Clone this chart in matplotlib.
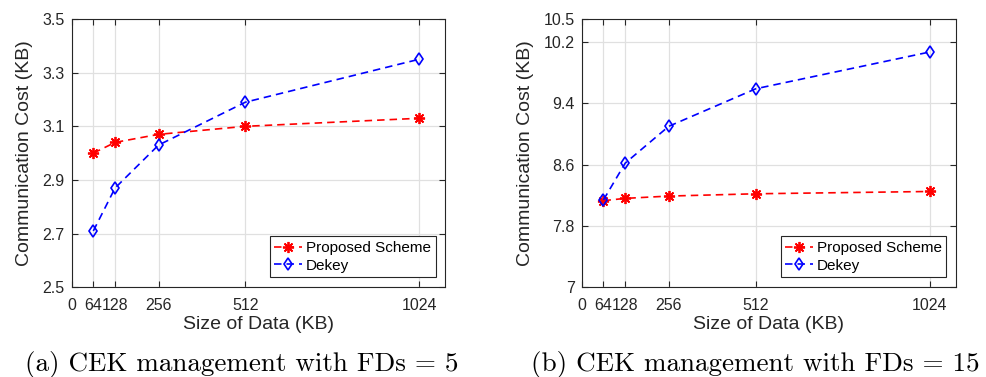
import numpy as np
import matplotlib
matplotlib.use("Agg")
import matplotlib.pyplot as plt

plt.rcParams['font.family'] = ['Liberation Sans', 'DejaVu Sans']

# data
sizes = [64, 128, 256, 512, 1024]
x_ticks = [0, 64, 128, 256, 512, 1024]

proposed_5 = [3.00, 3.04, 3.07, 3.10, 3.13]
dekey_5 = [2.71, 2.87, 3.03, 3.19, 3.35]
yticks_5 = [2.5, 2.7, 2.9, 3.1, 3.3, 3.5]

proposed_15 = [8.13, 8.16, 8.19, 8.22, 8.25]
dekey_15 = [8.14, 8.62, 9.10, 9.59, 10.07]
yticks_15 = [7, 7.8, 8.6, 9.4, 10.2, 10.5]

captions = ["(a) CEK management with FDs = 5", "(b) CEK management with FDs = 15"]

fig = plt.figure(figsize=(9.87, 3.77), dpi=100)
W, H = 987, 377
# axes boxes in pixels: left, top, right, bottom
boxes = [(71.6, 19, 445, 287.3), (581.7, 19, 955.7, 287.3)]
cap_x = [242, 755]
panels = [(proposed_5, dekey_5, yticks_5, (2.5, 3.5), ["2.5", "2.7", "2.9", "3.1", "3.3", "3.5"]),
          (proposed_15, dekey_15, yticks_15, (7, 10.5), ["7", "7.8", "8.6", "9.4", "10.2", "10.5"])]

for (l, t, r, b), (prop, dek, yt, ylim, ylabels), cap, cx in zip(boxes, panels, captions, cap_x):
    ax = fig.add_axes([l / W, 1 - b / H, (r - l) / W, (b - t) / H])
    ax.plot(sizes, prop, 'r--', marker=(8, 2, 0), markersize=8, markeredgewidth=1.3,
            linewidth=1.2, label='Proposed Scheme', zorder=3, dashes=(4.5, 3))
    ax.plot(sizes, dek, 'b--', marker='d', markersize=6.5, markerfacecolor='none',
            markeredgewidth=1.2, linewidth=1.2, label='Dekey', zorder=3, dashes=(4.5, 3))
    ax.set_xlim(0, 1100)
    ax.set_ylim(*ylim)
    ax.set_xticks(x_ticks)
    ax.set_xticklabels([str(v) for v in x_ticks])
    ax.set_yticks(yt)
    ax.set_yticklabels(ylabels)
    ax.grid(True, color='#e0e0e0', linewidth=0.9)
    ax.set_axisbelow(True)
    ax.tick_params(direction='in', top=True, right=True, labelsize=11.5,
                   color='#262626', labelcolor='#262626', length=4)
    ax.tick_params(axis='x', pad=8)
    ax.tick_params(axis='y', pad=5)
    for s in ax.spines.values():
        s.set_color('#262626')
        s.set_linewidth(0.8)
    ax.set_xlabel('Size of Data (KB)', fontsize=14, color='#262626', labelpad=2)
    ax.set_ylabel('Communication Cost (KB)', fontsize=14, color='#262626', labelpad=7)
    leg = ax.legend(loc='lower right', fontsize=11, handlelength=1.8, handletextpad=0.27,
                    borderpad=0.3, labelspacing=0.25, borderaxespad=0, fancybox=False,
                    framealpha=1, edgecolor='#262626', bbox_to_anchor=(0.975, 0.037))
    leg.get_frame().set_linewidth(0.8)
    fig.text(cx / W, 1 - 371 / H, cap, ha='center', va='baseline',
             fontsize=19.5, family='cmr10')

fig.savefig('out.png', dpi=100)
